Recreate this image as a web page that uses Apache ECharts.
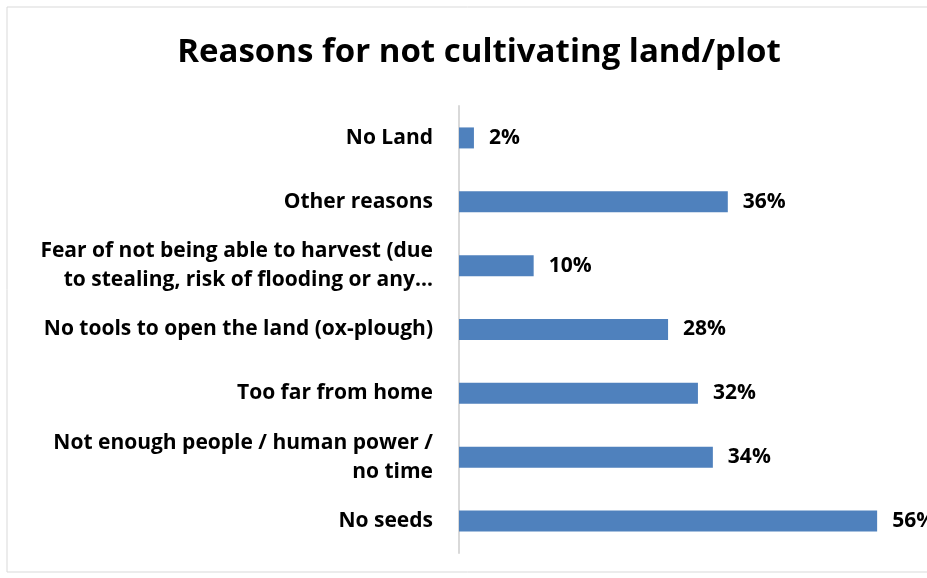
<!DOCTYPE html>
<html>
<head>
<meta charset="utf-8">
<script src="https://cdn.jsdelivr.net/npm/echarts@6/dist/echarts.min.js"></script>
<style>
	html, body { margin: 0; padding: 0; background: #fff; }
	#chart { width: 927px; height: 578px; }
</style>
</head>
<body>
<div id="chart"></div>
<script>
// categories top -> bottom as shown
const categories = [
	'No Land',
	'Other reasons',
	'Fear of not being able to harvest (due\nto stealing, risk of flooding or any…',
	'No tools to open the land (ox-plough)',
	'Too far from home',
	'Not enough people / human power /\nno time',
	'No seeds'
]
const percents = [2, 36, 10, 28, 32, 34, 56]

const fontName = '"Open Sans", "DejaVu Sans", sans-serif'

const chart = echarts.init(document.getElementById('chart'))
chart.setOption({
	animation: false,
	graphic: [{
		type: 'rect',
		shape: { x: 7, y: 7, width: 940, height: 565 },
		style: { fill: 'none', stroke: '#d9d9d9', lineWidth: 1 },
		silent: true
	}],
	title: {
		text: 'Reasons for not cultivating land/plot',
		left: 474,
		top: 31,
		textAlign: 'center',
		textStyle: {
			fontFamily: fontName,
			fontWeight: 'bold',
			fontSize: 33,
			color: '#000'
		}
	},
	grid: {
		left: 459,
		top: 106,
		width: 448,
		height: 447,
		containLabel: false
	},
	xAxis: {
		type: 'value',
		min: 0,
		max: 60,
		show: false
	},
	yAxis: {
		type: 'category',
		inverse: true,
		data: categories,
		axisLine: { show: true, lineStyle: { color: '#d9d9d9', width: 2 } },
		axisTick: { show: false },
		axisLabel: {
			margin: 26,
			align: 'right',
			fontFamily: fontName,
			fontWeight: 'bold',
			fontSize: 21,
			lineHeight: 29,
			color: '#000'
		}
	},
	series: [{
		type: 'bar',
		data: percents,
		barWidth: 21,
		itemStyle: { color: '#4f81bd' },
		label: {
			show: true,
			position: 'right',
			distance: 15,
			formatter: '{c}%',
			fontFamily: fontName,
			fontWeight: 'bold',
			fontSize: 21,
			color: '#000'
		}
	}]
})
</script>
</body>
</html>
